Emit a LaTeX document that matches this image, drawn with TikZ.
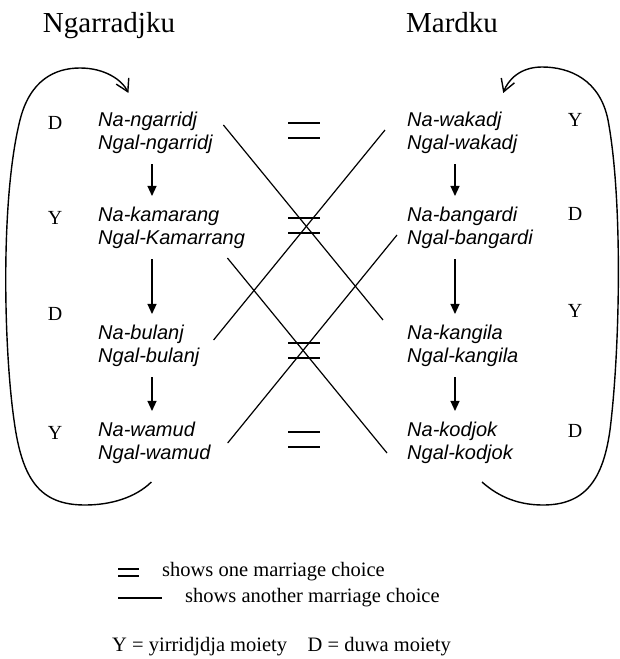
\documentclass[tikz,border=0pt]{standalone}
\usepackage{fontspec}
\setmainfont{Liberation Serif}
\setsansfont{Liberation Sans}
\usetikzlibrary{arrows.meta}

\begin{document}
\begin{tikzpicture}[x=1pt,y=-1pt,
  kin/.style={anchor=west, align=left, inner sep=0pt, font=\sffamily\itshape\fontsize{20}{23}\selectfont},
  moiety/.style={inner sep=0pt, font=\fontsize{20}{24}\selectfont},
  heading/.style={anchor=base, inner sep=0pt, font=\fontsize{29}{34}\selectfont},
  keytext/.style={anchor=base west, inner sep=0pt, font=\fontsize{20.5}{24}\selectfont},
  eqsign/.style={minimum width=32pt, minimum height=15pt, inner sep=0pt, outer sep=0pt},
  descent/.style={line width=1.2pt, -{Triangle[length=10pt,width=9pt]}, shorten <=10pt, shorten >=11pt},
  marry/.style={line width=1.2pt},
  cycleback/.style={line width=1.4pt, -{Straight Barb[length=12pt,width=14pt]}}]

\useasboundingbox (0,0) rectangle (620,659);

% group names
\node[heading] (ngarradjku) at (109,32) {Ngarradjku};
\node[heading] (mardku) at (452,32) {Mardku};

% left column
\node[kin] (ngarridj) at (98,133) {Na-ngarridj\\Ngal-ngarridj};
\node[kin] (kamarang) at (98,228) {Na-kamarang\\Ngal-Kamarrang};
\node[kin] (bulanj) at (98,346) {Na-bulanj\\Ngal-bulanj};
\node[kin] (wamud) at (98,443) {Na-wamud\\Ngal-wamud};

% right column
\node[kin] (wakadj) at (407,133) {Na-wakadj\\Ngal-wakadj};
\node[kin] (bangardi) at (407,228) {Na-bangardi\\Ngal-bangardi};
\node[kin] (kangila) at (407,346) {Na-kangila\\Ngal-kangila};
\node[kin] (kodjok) at (407,443) {Na-kodjok\\Ngal-kodjok};

% moieties
\node[moiety] (ml1) at (55,123) {D};
\node[moiety] (ml2) at (55,218) {Y};
\node[moiety] (ml3) at (55,314) {D};
\node[moiety] (ml4) at (55,433) {Y};
\node[moiety] (mr1) at (575,120) {Y};
\node[moiety] (mr2) at (575,214) {D};
\node[moiety] (mr3) at (575,311) {Y};
\node[moiety] (mr4) at (575,431) {D};

% descent arrows
\coordinate (lax) at (152,0);
\coordinate (rax) at (455,0);
\draw[descent] (ngarridj.south -| lax) -- (kamarang.north -| lax);
\draw[descent] (kamarang.south -| lax) -- (bulanj.north -| lax);
\draw[descent] (bulanj.south -| lax) -- (wamud.north -| lax);
\draw[descent] (wakadj.south -| rax) -- (bangardi.north -| rax);
\draw[descent] (bangardi.south -| rax) -- (kangila.north -| rax);
\draw[descent] (kangila.south -| rax) -- (kodjok.north -| rax);

% one marriage choice
\node[eqsign] (eq1) at (304,130.5) {};
\node[eqsign] (eq2) at (304,225.5) {};
\node[eqsign] (eq3) at (304,350.5) {};
\node[eqsign] (eq4) at (304,439.5) {};
\draw[marry] (eq1.north west) -- (eq1.north east) (eq1.south west) -- (eq1.south east);
\draw[marry] (eq2.north west) -- (eq2.north east) (eq2.south west) -- (eq2.south east);
\draw[marry] (eq3.north west) -- (eq3.north east) (eq3.south west) -- (eq3.south east);
\draw[marry] (eq4.north west) -- (eq4.north east) (eq4.south west) -- (eq4.south east);

% another marriage choice
\draw[marry] ([shift={(10.5,-8)}]ngarridj.east) -- ([shift={(-24,-5)}]kangila.north west);
\draw[marry] ([shift={(-22,-3)}]wakadj.west) -- ([shift={(14,-6)}]bulanj.east);
\draw[marry] ([shift={(-17.7,9)}]kamarang.south east) -- ([shift={(-20,10)}]kodjok.west);
\draw[marry] ([shift={(-10,7)}]bangardi.west) -- ([shift={(17,0)}]wamud.east);

% cycles back to the top
\draw[cycleback] ([shift={(-3,18)}]wamud.south)
  .. controls (135,498) and (110,505) .. (85,505)
  .. controls (40,505) and (22,480) .. (14,420)
  .. controls (4,350) and (0,200) .. (20,120)
  .. controls (30,80) and (55,68) .. (80,68)
  .. controls (105,68) and (122,80) .. ([shift={(-27,-19)}]ngarridj.north);
\draw[cycleback] ([shift={(22,18)}]kodjok.south)
  .. controls (500,498) and (520,505) .. (543,505)
  .. controls (585,505) and (603,480) .. (610,430)
  .. controls (620,350) and (623,200) .. (608,120)
  .. controls (600,80) and (570,67) .. (542,67)
  .. controls (520,67) and (508,80) .. ([shift={(41,-19)}]wakadj.north);

% legend
\node[eqsign, minimum width=21pt, minimum height=7pt] (keyeq) at (128.5,572.5) {};
\draw[marry] (keyeq.north west) -- (keyeq.north east) (keyeq.south west) -- (keyeq.south east);
\node[keytext] (keyone) at (162,576) {shows one marriage choice};
\coordinate (keyline) at (118,598);
\node[keytext] (keytwo) at (185,602) {shows another marriage choice};
\draw[marry] (keyline) -- (keyline -| keyone.west);
\node[keytext] (keymoiety) at (112,651) {Y = yirridjdja moiety\quad D = duwa moiety};

\end{tikzpicture}
\end{document}
